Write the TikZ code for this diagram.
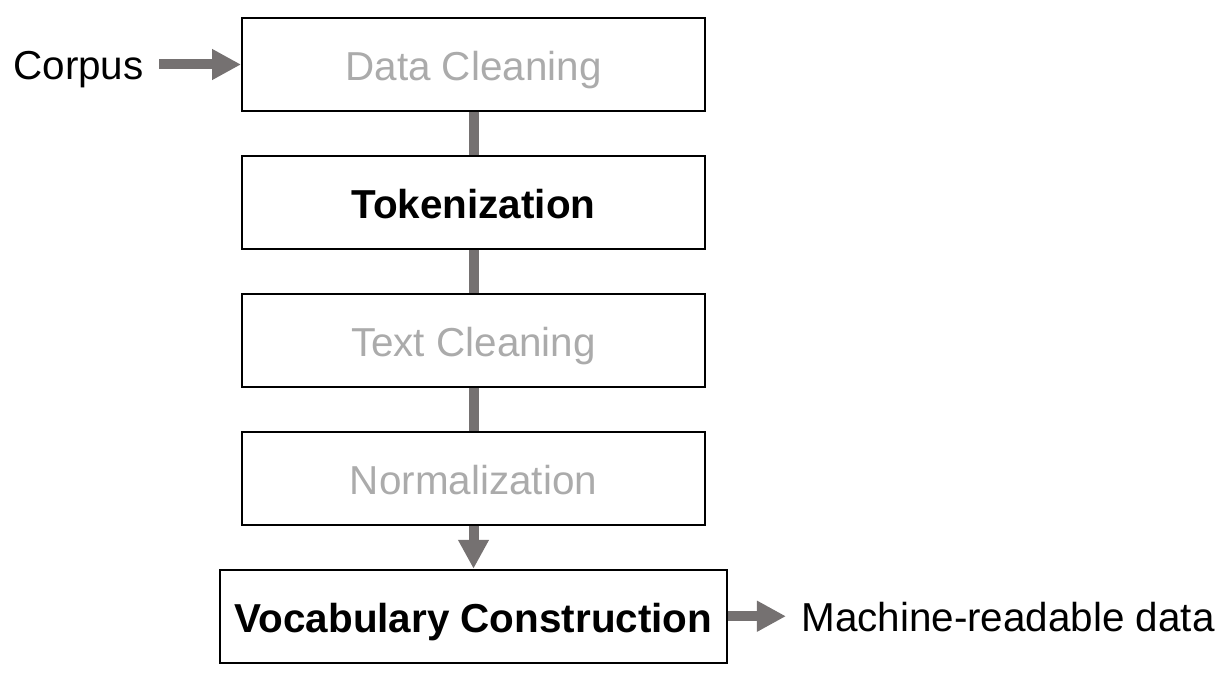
\documentclass[tikz,border=0pt]{standalone}
\usepackage{fontspec}
\setmainfont{Liberation Sans}
\usetikzlibrary{positioning,arrows.meta}
\definecolor{flowgray}{HTML}{757171}
\definecolor{fadedtext}{HTML}{ABABAB}
\tikzset{
  stage/.style={draw=black,line width=1.1pt,minimum width=9.26cm,minimum height=1.86cm,
    font=\fontsize{23}{27}\selectfont,text height=18pt,text depth=0pt},
  faded/.style={text=fadedtext},
  active/.style={font=\fontsize{23}{27}\selectfont\bfseries},
  side/.style={font=\fontsize{23}{27}\selectfont,text height=17pt,text depth=0pt,inner xsep=0.3cm},
  link/.style={flowgray,line width=0.2cm},
  flow/.style={link,-{Triangle[length=0.58cm,width=0.58cm]}}
}
\begin{document}
\begin{tikzpicture}
    \useasboundingbox (0,0) rectangle (24.52,-13.8);
    % pipeline stages
    \node[stage,faded] (clean) at (9.47,-1.29) {Data Cleaning};
    \node[stage,active,below=0.86cm of clean] (token) {Tokenization};
    \node[stage,faded,below=0.86cm of token] (textclean) {Text Cleaning};
    \node[stage,faded,below=0.86cm of textclean] (norm) {Normalization};
    \node[stage,active,minimum width=10.14cm,below=0.86cm of norm] (vocab) {Vocabulary Construction};
    % input and output
    \node[side,left=1.64cm of clean] (corpus) {Corpus};
    \node[side,right=1.16cm of vocab] (data) {Machine-readable data};
    % connectors
    \draw[flow] (corpus.east) -- (clean.west);
    \draw[link] (clean) -- (token);
    \draw[link] (token) -- (textclean);
    \draw[link] (textclean) -- (norm);
    \draw[flow] (norm) -- (vocab);
    \draw[flow] (vocab.east) -- (data.west);
\end{tikzpicture}
\end{document}
